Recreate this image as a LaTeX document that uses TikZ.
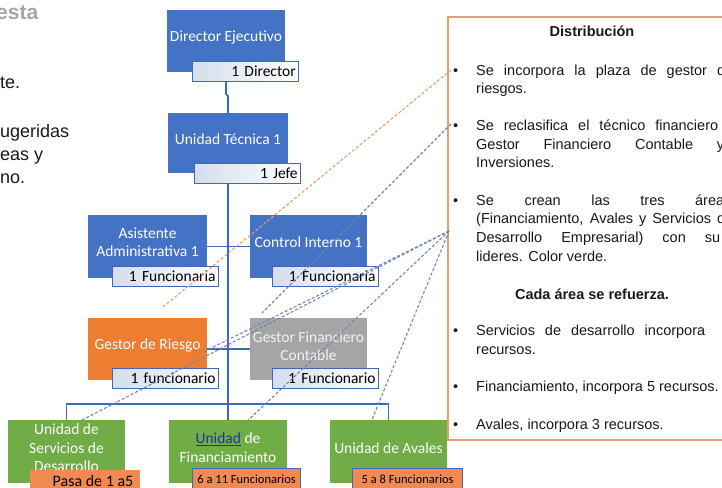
\documentclass[tikz,border=0pt]{standalone}
\usepackage{fontspec}
\setmainfont{Liberation Sans}
\newfontfamily\chartfont{Carlito}
\usetikzlibrary{backgrounds}
\definecolor{obBlue}{RGB}{68,114,196}
\definecolor{obLine}{RGB}{62,104,184}
\definecolor{obOrange}{RGB}{237,125,49}
\definecolor{obGray}{RGB}{165,165,165}
\definecolor{obGreen}{RGB}{112,173,71}
\definecolor{obLabOr}{RGB}{240,138,80}
\definecolor{obTagL}{RGB}{214,221,235}
\definecolor{obDash}{RGB}{112,134,178}
\definecolor{obDashOr}{RGB}{230,158,108}
\definecolor{obPanel}{RGB}{226,160,112}
\definecolor{obText}{RGB}{25,25,25}
\definecolor{obLink}{RGB}{25,55,160}
\definecolor{obHead}{RGB}{166,166,166}
\newcommand\jline[2]{\makebox[#1pt][s]{#2}}
\begin{document}
\begin{tikzpicture}[x=1pt,y=-1pt,
  unit/.style={anchor=north west, inner sep=0pt, outer sep=0pt},
  utext/.style={font=\chartfont\fontsize{15.5}{18.5}\selectfont, text=white, align=center, inner sep=0pt},
  tag/.style={anchor=north west, draw=obLine, line width=1.3pt, left color=obTagL, right color=white, inner xsep=3pt, inner ysep=0pt, minimum height=20pt, text width=100pt, align=right, font=\chartfont\fontsize{15.5}{18}\selectfont, text=black},
  smalltag/.style={anchor=north west, draw=obLine, line width=1.3pt, fill=obLabOr, inner sep=0pt, minimum width=108pt, minimum height=22pt, font=\chartfont\fontsize{12.5}{14}\selectfont, text=black},
  conn/.style={obLine, line width=1.6pt},
  dashline/.style={obDash, line width=1.1pt, dash pattern=on 3pt off 2pt},
  dashor/.style={obDashOr, line width=1.1pt, dash pattern=on 3pt off 2pt},
  ptext/.style={anchor=base west, inner sep=0pt, font=\fontsize{14.5}{18}\selectfont, text=obText},
  pbold/.style={anchor=base, inner sep=0pt, font=\bfseries\fontsize{14.5}{18}\selectfont, text=obText},
  lefttxt/.style={anchor=base west, inner sep=0pt, font=\fontsize{18}{22}\selectfont, text=obText}
]
\useasboundingbox (0,0) rectangle (722,487);

% left cut-off slide text
\node[anchor=base west, inner sep=0pt, font=\bfseries\fontsize{21}{24}\selectfont, text=obHead] (hd) at (-4,20) {esta};
\node[lefttxt] (l1) at (0,88) {te.};
\node[lefttxt] (l2) at (0,137) {ugeridas};
\node[lefttxt] (l3) at (0,160) {eas y};
\node[lefttxt] (l4) at (0,183) {no.};

% org chart boxes
\node[unit, fill=obBlue, minimum width=118pt, minimum height=62pt] (dir) at (167,10) {};
\node[utext] (dirT) at (226,37) {Director Ejecutivo};
\node[tag] (dirL) at (192,61) {1 Director};

\node[unit, fill=obBlue, minimum width=120pt, minimum height=60pt] (ut) at (168,113) {};
\node[utext] (utT) at (228,139) {Unidad Técnica 1};
\node[tag] (utL) at (194,163) {1 Jefe};

\node[unit, fill=obBlue, minimum width=119pt, minimum height=63pt] (asis) at (88,215) {};
\node[utext] (asisT) at (147.5,242) {Asistente\\Administrativa 1};
\node[tag] (asisL) at (112,266) {1 Funcionaria};

\node[unit, fill=obBlue, minimum width=117pt, minimum height=63pt] (ctrl) at (250,215) {};
\node[utext] (ctrlT) at (308.5,242) {Control Interno 1};
\node[tag] (ctrlL) at (272,266) {1 Funcionaria};

\node[unit, fill=obOrange, minimum width=119pt, minimum height=62pt] (ries) at (88,318) {};
\node[utext] (riesT) at (147.5,345) {Gestor de Riesgo};
\node[tag] (riesL) at (112,368) {1 funcionario};

\node[unit, fill=obGray, minimum width=117pt, minimum height=62pt] (gfc) at (250,318) {};
\node[utext, text=white!95!black] (gfcT) at (308.5,346) {Gestor Financiero\\Contable};
\node[tag] (gfcL) at (272,368) {1 Funcionario};

\node[unit, fill=obGreen, minimum width=117pt, minimum height=63pt] (srv) at (8,420) {};
\node[utext] (srvT) at (66.5,448) {Unidad de\\Servicios de\\Desarrollo};
\node[unit, fill=obLabOr, minimum width=110pt, minimum height=22pt] (srvL) at (30,470) {};
\node[inner sep=0pt, font=\chartfont\fontsize{16}{18}\selectfont, text=black] (srvLT) at (93,481) {Pasa de 1 a5};

\node[unit, fill=obGreen, minimum width=118pt, minimum height=63pt] (fin) at (169,420) {};
\node[utext] (finT) at (228,447.5) {\textcolor{obLink}{\underline{Unidad}} de\\Financiamiento};
\node[smalltag] (finL) at (192,468) {6 a 11 Funcionarios};

\node[unit, fill=obGreen, minimum width=117pt, minimum height=63pt] (ava) at (330,420) {};
\node[utext] (avaT) at (388.5,448) {Unidad de Avales};
\node[smalltag, minimum width=110pt] (avaL) at (352,468) {5 a 8 Funcionarios};

% connectors
\begin{pgfonlayer}{background}
\draw[conn] (dir.south) -- ++(0,22) -- ++(2,2) -- (ut.north);
\draw[conn] (ut.south) -- (fin.north);
\draw[conn] (srv.north) -- ++(0,-16) -| (ava.north);
\draw[conn] (asis.east) -- (ctrl.west);
\draw[conn] (ries.east) -- (gfc.west);
\end{pgfonlayer}

% right panel
\node[unit, draw=obPanel, line width=1.5pt, minimum width=300pt, minimum height=423pt] (panel) at (448,17) {};
\node[pbold] (ph) at (592,37) {Distribución};
\node[ptext] (bu1) at (453,75) {•};
\node[ptext] (t1a) at (476,75) {\jline{249}{Se incorpora la plaza de gestor d}};
\node[ptext] (t1b) at (476,93) {riesgos.};
\node[ptext] (bu2) at (453,130) {•};
\node[ptext] (t2a) at (476,130) {\jline{242}{Se reclasifica el técnico financiero}};
\node[ptext] (t2b) at (476,149) {\jline{248}{Gestor Financiero Contable y}};
\node[ptext] (t2c) at (476,167) {Inversiones.};
\node[ptext] (bu3) at (453,205) {•};
\node[ptext] (t3a) at (476,205) {\jline{248}{Se crean las tres área}};
\node[ptext] (t3b) at (476,223) {\jline{249}{(Financiamiento, Avales y Servicios d}};
\node[ptext] (t3c) at (476,242) {\jline{244}{Desarrollo Empresarial) con su}};
\node[ptext] (t3d) at (476,261) {lideres. Color verde.};
\node[pbold] (ph2) at (592,299) {Cada área se refuerza.};
\node[ptext] (bu4) at (453,335) {•};
\node[ptext] (t4a) at (476,335) {\jline{229}{Servicios de desarrollo incorpora}};
\node[ptext] (t4b) at (476,354) {recursos.};
\node[ptext] (bu5) at (453,391) {•};
\node[ptext] (t5) at (476,391) {Financiamiento, incorpora 5 recursos.};
\node[ptext] (bu6) at (453,429) {•};
\node[ptext] (t6) at (476,429) {Avales, incorpora 3 recursos.};

% dashed pointers
\coordinate (p1) at (451,70);
\coordinate (p2) at (451,124);
\coordinate (p3) at (449,231);
\coordinate (e1) at (163,307);
\coordinate (e2) at (262,313);
\coordinate (e3) at (80,421);
\coordinate (e4) at (203,352);
\coordinate (e5) at (243,425);
\coordinate (e6) at (371,422);
\draw[dashor] (p1) -- (e1);
\draw[dashline] (p2) -- (e2);
\draw[dashline] (p3) -- (e3);
\draw[dashline] (p3) -- (e4);
\draw[dashline] (p3) -- (e5);
\draw[dashline] (p3) -- (e6);
\end{tikzpicture}
\end{document}
